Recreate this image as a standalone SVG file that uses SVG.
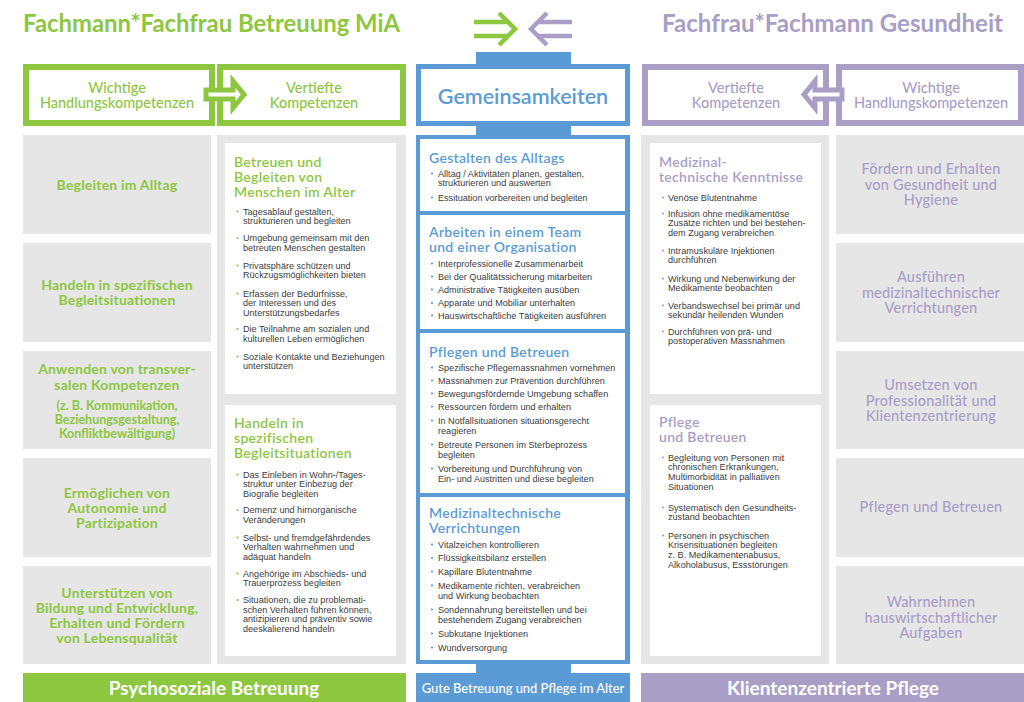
<svg xmlns="http://www.w3.org/2000/svg" width="1024" height="702" viewBox="0 0 1024 702">
<style>
text{font-family:Lato,"Open Sans","Liberation Sans",sans-serif}
.gr{fill:#8dc63f}.bl{fill:#5b9bd5}.pu{fill:#a89ec6}.wh{fill:#fff}.gy{fill:#e6e6e6}
.bx{fill:#fff;stroke-width:6}
.ttl{font-size:25px;font-weight:700}
.hd{font-size:14.5px;font-weight:500;text-anchor:middle}
.cg{font-size:14px;font-weight:700;text-anchor:middle;fill:#8dc63f;letter-spacing:0.2px}
.cgs{font-size:12.5px;letter-spacing:0}
.cp{font-size:14.5px;font-weight:500;text-anchor:middle;fill:#a89ec6;letter-spacing:0.2px}
.st{font-size:14px;font-weight:600;letter-spacing:0.3px}
.b{font-family:"Liberation Sans",Arial,sans-serif;font-size:9.1px;fill:#3c3c3c}
.bar{font-size:19px;font-weight:700;fill:#fff;text-anchor:middle}
.bdg{fill:#8dc63f}.bdb{fill:#5b9bd5}.bdp{fill:#a89ec6}
</style>

<!-- Titles -->
<text id="title-left" class="ttl gr" x="23" y="32" textLength="377" lengthAdjust="spacingAndGlyphs">Fachmann*Fachfrau Betreuung MiA</text>
<text id="title-right" class="ttl pu" x="662" y="32" textLength="341" lengthAdjust="spacingAndGlyphs" font-weight="500">Fachfrau*Fachmann Gesundheit</text>

<!-- Green header -->
<g id="hdr-green-1">
<rect class="bx" x="26" y="67" width="186" height="56" stroke="#8dc63f"/>
<text class="hd gr"><tspan x="117" y="93">Wichtige</tspan><tspan x="117" y="108">Handlungskompetenzen</tspan></text>
</g>
<g id="hdr-green-2">
<rect class="bx" x="220" y="67" width="183" height="56" stroke="#8dc63f"/>
<text class="hd gr"><tspan x="314" y="93">Vertiefte</tspan><tspan x="314" y="108">Kompetenzen</tspan></text>
</g>

<!-- Blue header -->
<g id="hdr-blue">
<rect class="bl" x="476" y="52" width="95" height="15"/>
<rect x="418.5" y="66.5" width="209" height="57" fill="#fff" stroke="#5b9bd5" stroke-width="5"/>
<rect class="bl" x="476" y="125" width="95" height="12"/>
<text class="bl" x="523" y="103.5" font-size="21.5" font-weight="600" text-anchor="middle">Gemeinsamkeiten</text>
</g>

<!-- Purple header -->
<g id="hdr-purple-1">
<rect class="bx" x="645" y="67" width="181" height="56" stroke="#a89ec6"/>
<text class="hd pu"><tspan x="736" y="93">Vertiefte</tspan><tspan x="736" y="108">Kompetenzen</tspan></text>
</g>
<g id="hdr-purple-2">
<rect class="bx" x="839" y="67" width="182" height="56" stroke="#a89ec6"/>
<text class="hd pu"><tspan x="931" y="93">Wichtige</tspan><tspan x="931" y="108">Handlungskompetenzen</tspan></text>
</g>

<!-- Connectors -->
<g id="connectors" fill="none" stroke-width="5">
<polygon points="206,90 233,90 233,81 244,94.5 233,108 233,99 206,99" fill="#fff" stroke="#8dc63f"/>
<polygon points="842,90 815,90 815,81 804,94.5 815,108 815,99 842,99" fill="#fff" stroke="#a89ec6"/>
<path d="M474,22 H508 M474,36 H508 M499,13 L515,29 L499,45" stroke="#8dc63f" stroke-width="4.5"/>
<path d="M572,22 H538 M572,36 H538 M547,13 L531,29 L547,45" stroke="#a89ec6" stroke-width="4.5"/>
</g>

<!-- Column 1: green competences -->
<g id="g-c1-1"><rect class="gy" x="23" y="135" width="188" height="99"/>
<text class="cg" x="117" y="190">Begleiten im Alltag</text></g>
<g id="g-c1-2"><rect class="gy" x="23" y="243" width="188" height="99"/>
<text class="cg"><tspan x="117" y="290">Handeln in spezifischen</tspan><tspan x="117" y="305">Begleitsituationen</tspan></text></g>
<g id="g-c1-3"><rect class="gy" x="23" y="351" width="188" height="98"/>
<text class="cg"><tspan x="117" y="374">Anwenden von transver-</tspan><tspan x="117" y="390">salen Kompetenzen</tspan><tspan class="cgs" x="117" y="409.5">(z. B. Kommunikation,</tspan><tspan class="cgs" x="117" y="423.5">Beziehungsgestaltung,</tspan><tspan class="cgs" x="117" y="437.5">Konfliktbewältigung)</tspan></text></g>
<g id="g-c1-4"><rect class="gy" x="23" y="458" width="188" height="99"/>
<text class="cg"><tspan x="117" y="498">Ermöglichen von</tspan><tspan x="117" y="513">Autonomie und</tspan><tspan x="117" y="528">Partizipation</tspan></text></g>
<g id="g-c1-5"><rect class="gy" x="23" y="566" width="188" height="98"/>
<text class="cg"><tspan x="117" y="598">Unterstützen von</tspan><tspan x="117" y="613">Bildung und Entwicklung,</tspan><tspan x="117" y="628">Erhalten und Fördern</tspan><tspan x="117" y="643">von Lebensqualität</tspan></text></g>

<!-- Column 2 background -->
<rect class="gy" x="217" y="135" width="189" height="529"/>

<g id="g-c2-1">
<rect class="wh" x="225" y="143" width="171" height="251"/>
<text class="st gr"><tspan x="234" y="167">Betreuen und</tspan><tspan x="234" y="182">Begleiten von</tspan><tspan x="234" y="197">Menschen im Alter</tspan></text>
<g class="bdg"><circle cx="237.5" cy="211.5" r="1.1"/><circle cx="237.5" cy="238" r="1.1"/><circle cx="237.5" cy="265.5" r="1.1"/><circle cx="237.5" cy="293.5" r="1.1"/><circle cx="237.5" cy="329" r="1.1"/><circle cx="237.5" cy="356.5" r="1.1"/></g>
<text class="b"><tspan x="243" y="214.5">Tagesablauf gestalten,</tspan><tspan x="243" y="224.2">strukturieren und begleiten</tspan></text>
<text class="b"><tspan x="243" y="241">Umgebung gemeinsam mit den</tspan><tspan x="243" y="250.7">betreuten Menschen gestalten</tspan></text>
<text class="b"><tspan x="243" y="268.5">Privatsphäre schützen und</tspan><tspan x="243" y="278.2">Rückzugsmöglichkeiten bieten</tspan></text>
<text class="b"><tspan x="243" y="296.5">Erfassen der Bedürfnisse,</tspan><tspan x="243" y="306.2">der Interessen und des</tspan><tspan x="243" y="315.9">Unterstützungsbedarfes</tspan></text>
<text class="b"><tspan x="243" y="332">Die Teilnahme am sozialen und</tspan><tspan x="243" y="341.7">kulturellen Leben ermöglichen</tspan></text>
<text class="b"><tspan x="243" y="359.5">Soziale Kontakte und Beziehungen</tspan><tspan x="243" y="369.2">unterstützen</tspan></text>
</g>

<g id="g-c2-2">
<rect class="wh" x="225" y="405" width="171" height="251"/>
<text class="st gr"><tspan x="234" y="428">Handeln in</tspan><tspan x="234" y="443">spezifischen</tspan><tspan x="234" y="458">Begleitsituationen</tspan></text>
<g class="bdg"><circle cx="237.5" cy="474.5" r="1.1"/><circle cx="237.5" cy="510" r="1.1"/><circle cx="237.5" cy="537.5" r="1.1"/><circle cx="237.5" cy="573.5" r="1.1"/><circle cx="237.5" cy="600" r="1.1"/></g>
<text class="b"><tspan x="243" y="477.5">Das Einleben in Wohn-/Tages-</tspan><tspan x="243" y="487.2">struktur unter Einbezug der</tspan><tspan x="243" y="496.9">Biografie begleiten</tspan></text>
<text class="b"><tspan x="243" y="513">Demenz und hirnorganische</tspan><tspan x="243" y="522.7">Veränderungen</tspan></text>
<text class="b"><tspan x="243" y="540.5">Selbst- und fremdgefährdendes</tspan><tspan x="243" y="550.2">Verhalten wahrnehmen und</tspan><tspan x="243" y="559.9">adäquat handeln</tspan></text>
<text class="b"><tspan x="243" y="576.5">Angehörige im Abschieds- und</tspan><tspan x="243" y="586.2">Trauerprozess begleiten</tspan></text>
<text class="b"><tspan x="243" y="603">Situationen, die zu problemati-</tspan><tspan x="243" y="612.7">schen Verhalten führen können,</tspan><tspan x="243" y="622.4">antizipieren und präventiv sowie</tspan><tspan x="243" y="632.1">deeskalierend handeln</tspan></text>
</g>

<!-- Middle column -->
<rect class="bl" x="416" y="135" width="214" height="529"/>

<g id="m-1">
<rect class="wh" x="420" y="139" width="205" height="72"/>
<text class="st bl" x="429" y="162.5">Gestalten des Alltags</text>
<g class="bdb"><circle cx="432" cy="173.5" r="1.1"/><circle cx="432" cy="197.5" r="1.1"/></g>
<text class="b"><tspan x="438" y="176.5">Alltag / Aktivitäten planen, gestalten,</tspan><tspan x="438" y="186.2">strukturieren und auswerten</tspan></text>
<text class="b" x="438" y="200.5">Essituation vorbereiten und begleiten</text>
</g>

<g id="m-2">
<rect class="wh" x="420" y="215" width="205" height="114"/>
<text class="st bl"><tspan x="429" y="237">Arbeiten in einem Team</tspan><tspan x="429" y="252">und einer Organisation</tspan></text>
<g class="bdb"><circle cx="432" cy="263.5" r="1.1"/><circle cx="432" cy="276.5" r="1.1"/><circle cx="432" cy="289.5" r="1.1"/><circle cx="432" cy="303" r="1.1"/><circle cx="432" cy="315.5" r="1.1"/></g>
<text class="b" x="438" y="266.5">Interprofessionelle Zusammenarbeit</text>
<text class="b" x="438" y="279.5">Bei der Qualitätssicherung mitarbeiten</text>
<text class="b" x="438" y="292.5">Administrative Tätigkeiten ausüben</text>
<text class="b" x="438" y="306">Apparate und Mobiliar unterhalten</text>
<text class="b" x="438" y="318.5">Hauswirtschaftliche Tätigkeiten ausführen</text>
</g>

<g id="m-3">
<rect class="wh" x="420" y="333" width="205" height="160"/>
<text class="st bl" x="429" y="356.5">Pflegen und Betreuen</text>
<g class="bdb"><circle cx="432" cy="367.5" r="1.1"/><circle cx="432" cy="380.5" r="1.1"/><circle cx="432" cy="393.5" r="1.1"/><circle cx="432" cy="406.5" r="1.1"/><circle cx="432" cy="420.5" r="1.1"/><circle cx="432" cy="444.5" r="1.1"/><circle cx="432" cy="468.5" r="1.1"/></g>
<text class="b" x="438" y="370.5">Spezifische Pflegemassnahmen vornehmen</text>
<text class="b" x="438" y="383.5">Massnahmen zur Prävention durchführen</text>
<text class="b" x="438" y="396.5">Bewegungsfördernde Umgebung schaffen</text>
<text class="b" x="438" y="409.5">Ressourcen fördern und erhalten</text>
<text class="b"><tspan x="438" y="423.5">In Notfallsituationen situationsgerecht</tspan><tspan x="438" y="433.5">reagieren</tspan></text>
<text class="b"><tspan x="438" y="447.5">Betreute Personen im Sterbeprozess</tspan><tspan x="438" y="457.5">begleiten</tspan></text>
<text class="b"><tspan x="438" y="471.5">Vorbereitung und Durchführung von</tspan><tspan x="438" y="481.5">Ein- und Austritten und diese begleiten</tspan></text>
</g>

<g id="m-4">
<rect class="wh" x="420" y="497" width="205" height="163"/>
<text class="st bl"><tspan x="429" y="518">Medizinaltechnische</tspan><tspan x="429" y="533">Verrichtungen</tspan></text>
<g class="bdb"><circle cx="432" cy="544.5" r="1.1"/><circle cx="432" cy="558" r="1.1"/><circle cx="432" cy="571.5" r="1.1"/><circle cx="432" cy="585.5" r="1.1"/><circle cx="432" cy="609.5" r="1.1"/><circle cx="432" cy="633.5" r="1.1"/><circle cx="432" cy="647.5" r="1.1"/></g>
<text class="b" x="438" y="547.5">Vitalzeichen kontrollieren</text>
<text class="b" x="438" y="561">Flüssigkeitsbilanz erstellen</text>
<text class="b" x="438" y="574.5">Kapillare Blutentnahme</text>
<text class="b"><tspan x="438" y="588.5">Medikamente richten, verabreichen</tspan><tspan x="438" y="598.5">und Wirkung beobachten</tspan></text>
<text class="b"><tspan x="438" y="612.5">Sondennahrung bereitstellen und bei</tspan><tspan x="438" y="622.5">bestehendem Zugang verabreichen</tspan></text>
<text class="b" x="438" y="636.5">Subkutane Injektionen</text>
<text class="b" x="438" y="650.5">Wundversorgung</text>
</g>

<!-- Column 3 background -->
<rect class="gy" x="641" y="135" width="188" height="529"/>

<g id="p-c3-1">
<rect class="wh" x="650" y="143" width="171" height="251"/>
<text class="st pu"><tspan x="659" y="167">Medizinal-</tspan><tspan x="659" y="182">technische Kenntnisse</tspan></text>
<g class="bdp"><circle cx="663" cy="197.5" r="1.1"/><circle cx="663" cy="213.5" r="1.1"/><circle cx="663" cy="250.5" r="1.1"/><circle cx="663" cy="278.5" r="1.1"/><circle cx="663" cy="305.5" r="1.1"/><circle cx="663" cy="331.5" r="1.1"/></g>
<text class="b" x="668" y="200.5">Venöse Blutentnahme</text>
<text class="b"><tspan x="668" y="216.5">Infusion ohne medikamentöse</tspan><tspan x="668" y="226.2">Zusätze richten und bei bestehen-</tspan><tspan x="668" y="235.9">dem Zugang verabreichen</tspan></text>
<text class="b"><tspan x="668" y="253.5">Intramuskuläre Injektionen</tspan><tspan x="668" y="263.3">durchführen</tspan></text>
<text class="b"><tspan x="668" y="281.5">Wirkung und Nebenwirkung der</tspan><tspan x="668" y="291.3">Medikamente beobachten</tspan></text>
<text class="b"><tspan x="668" y="308.5">Verbandswechsel bei primär und</tspan><tspan x="668" y="318.2">sekundär heilenden Wunden</tspan></text>
<text class="b"><tspan x="668" y="334.5">Durchführen von prä- und</tspan><tspan x="668" y="344.2">postoperativen Massnahmen</tspan></text>
</g>

<g id="p-c3-2">
<rect class="wh" x="650" y="405" width="171" height="251"/>
<text class="st pu"><tspan x="659" y="427">Pflege</tspan><tspan x="659" y="442">und Betreuen</tspan></text>
<g class="bdp"><circle cx="663" cy="457.5" r="1.1"/><circle cx="663" cy="507.5" r="1.1"/><circle cx="663" cy="535.5" r="1.1"/></g>
<text class="b"><tspan x="668" y="460.5">Begleitung von Personen mit</tspan><tspan x="668" y="470.2">chronischen Erkrankungen,</tspan><tspan x="668" y="479.9">Multimorbidität in palliativen</tspan><tspan x="668" y="489.6">Situationen</tspan></text>
<text class="b"><tspan x="668" y="510.5">Systematisch den Gesundheits-</tspan><tspan x="668" y="520.2">zustand beobachten</tspan></text>
<text class="b"><tspan x="668" y="538.5">Personen in psychischen</tspan><tspan x="668" y="548.2">Krisensituationen begleiten</tspan><tspan x="668" y="557.9">z. B. Medikamentenabusus,</tspan><tspan x="668" y="567.6">Alkoholabusus, Essstörungen</tspan></text>
</g>

<!-- Column 4: purple competences -->
<g id="p-c4-1"><rect class="gy" x="836" y="135" width="188" height="99"/>
<text class="cp"><tspan x="931" y="174">Fördern und Erhalten</tspan><tspan x="931" y="189.5">von Gesundheit und</tspan><tspan x="931" y="205">Hygiene</tspan></text></g>
<g id="p-c4-2"><rect class="gy" x="836" y="243" width="188" height="99"/>
<text class="cp"><tspan x="931" y="282">Ausführen</tspan><tspan x="931" y="297.5">medizinaltechnischer</tspan><tspan x="931" y="313">Verrichtungen</tspan></text></g>
<g id="p-c4-3"><rect class="gy" x="836" y="351" width="188" height="98"/>
<text class="cp"><tspan x="931" y="390">Umsetzen von</tspan><tspan x="931" y="405.5">Professionalität und</tspan><tspan x="931" y="421">Klientenzentrierung</tspan></text></g>
<g id="p-c4-4"><rect class="gy" x="836" y="458" width="188" height="99"/>
<text class="cp" x="931" y="512">Pflegen und Betreuen</text></g>
<g id="p-c4-5"><rect class="gy" x="836" y="566" width="188" height="98"/>
<text class="cp"><tspan x="931" y="607">Wahrnehmen</tspan><tspan x="931" y="622.5">hauswirtschaftlicher</tspan><tspan x="931" y="638">Aufgaben</tspan></text></g>

<!-- Bottom bars -->
<g id="bar-green"><rect class="gr" x="23" y="673" width="383" height="29"/>
<text class="bar" x="214" y="694.5">Psychosoziale Betreuung</text></g>
<g id="bar-blue"><rect class="bl" x="476" y="663" width="95" height="11"/>
<rect class="bl" x="416" y="673" width="214" height="29"/>
<text x="523" y="692.5" font-size="12.9" font-weight="500" fill="#fff" text-anchor="middle">Gute Betreuung und Pflege im Alter</text></g>
<g id="bar-purple"><rect class="pu" x="641" y="673" width="383" height="29"/>
<text class="bar" x="833" y="694.5">Klientenzentrierte Pflege</text></g>
</svg>
